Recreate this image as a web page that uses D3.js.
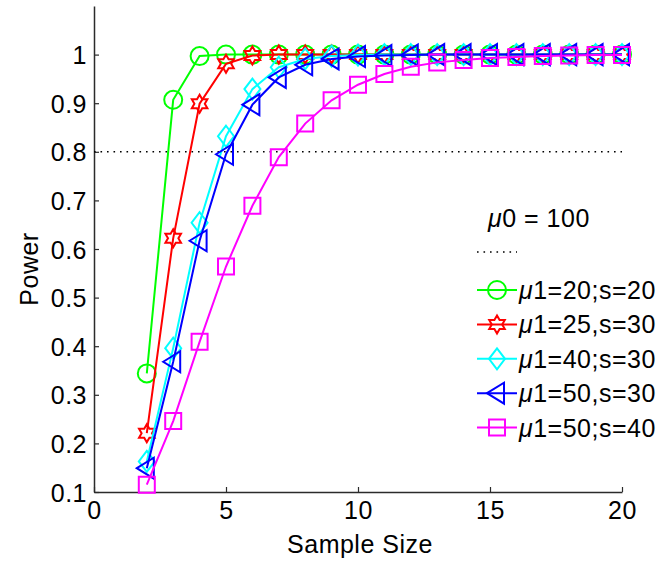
<!DOCTYPE html>
<html>
<head>
<meta charset="utf-8">
<script src="https://cdn.jsdelivr.net/npm/d3@7/dist/d3.min.js"></script>
<style>
  html, body { margin: 0; padding: 0; background: #fff; }
  svg { display: block; }
  text { font-family: "Liberation Sans", Arial, Helvetica, sans-serif; fill: #000; }
</style>
</head>
<body>
<svg id="chart" width="665" height="562"></svg>
<script>
// Sample sizes and power curves for each (μ1, s) setting
const sampleSizes = [2, 3, 4, 5, 6, 7, 8, 9, 10, 11, 12, 13, 14, 15, 16, 17, 18, 19, 20];

const powerMu20s20 = [0.344, 0.907, 0.997, 1.000, 1.000, 1.000, 1.000, 1.000, 1.000, 1.000, 1.000, 1.000, 1.000, 1.000, 1.000, 1.000, 1.000, 1.000, 1.000];
const powerMu25s30 = [0.221, 0.622, 0.899, 0.981, 0.998, 1.000, 1.000, 1.000, 1.000, 1.000, 1.000, 1.000, 1.000, 1.000, 1.000, 1.000, 1.000, 1.000, 1.000];
const powerMu40s30 = [0.163, 0.396, 0.654, 0.832, 0.929, 0.974, 0.991, 0.997, 0.999, 1.000, 1.000, 1.000, 1.000, 1.000, 1.000, 1.000, 1.000, 1.000, 1.000];
const powerMu50s30 = [0.149, 0.368, 0.617, 0.795, 0.897, 0.953, 0.979, 0.991, 0.996, 0.998, 0.999, 1.000, 1.000, 1.000, 1.000, 1.000, 1.000, 1.000, 1.000];
const powerMu50s40 = [0.115, 0.246, 0.409, 0.564, 0.689, 0.789, 0.858, 0.906, 0.938, 0.960, 0.975, 0.984, 0.989, 0.993, 0.995, 0.997, 0.998, 0.999, 0.999];

// Legend labels: Greek prefix and remainder kept apart so μ can be slanted
const seriesLabels = ["1=20;s=20", "1=25,s=30", "1=40;s=30", "1=50,s=30", "1=50;s=40"];
const seriesColors = ["#00ff00", "#ff0000", "#00ffff", "#0000ff", "#ff00ff"];
const seriesMarkers = ["circle", "hexagram", "diamond", "triangleLeft", "square"];

const targetPower = 0.8;
const nullLabel = "0 = 100";

const xTicks = [0, 5, 10, 15, 20];
const yTicks = [0.1, 0.2, 0.3, 0.4, 0.5, 0.6, 0.7, 0.8, 0.9, 1];

const series = [powerMu20s20, powerMu25s30, powerMu40s30, powerMu50s30, powerMu50s40].map((vals, i) => ({
  label: seriesLabels[i],
  color: seriesColors[i],
  marker: seriesMarkers[i],
  points: sampleSizes.map((n, j) => ({ n, p: vals[j] }))
}));

// Layout
const plot = { left: 94, right: 622, top: 6, bottom: 492 };
const x = d3.scaleLinear().domain([0, 20]).range([plot.left, plot.right]);
const y = d3.scaleLinear().domain([0.1, 1.1]).range([plot.bottom, plot.top]);

const svg = d3.select("#chart");
const FONT = 25;
const SPACING = 0.5;
const AXIS_COLOR = "#2b2b2b";

// Marker outlines, centred on (0,0)
function markerPath(kind) {
  switch (kind) {
    case "circle": {
      const r = 9;
      return `M${-r},0A${r},${r} 0 1,0 ${r},0A${r},${r} 0 1,0 ${-r},0Z`;
    }
    case "square": {
      const h = 8;
      return `M${-h},${-h}L${h},${-h}L${h},${h}L${-h},${h}Z`;
    }
    case "diamond": {
      const w = 8, h = 10.5;
      return `M0,${-h}L${w},0L0,${h}L${-w},0Z`;
    }
    case "triangleLeft": {
      return `M-10,0L7,-10.5L7,10.5Z`;
    }
    case "hexagram": {
      const R = 9, r = R / Math.sqrt(3);
      const pts = [];
      for (let k = 0; k < 12; k++) {
        const a = -Math.PI / 2 + k * Math.PI / 6;
        const rad = k % 2 === 0 ? R : r;
        pts.push([rad * Math.cos(a), rad * Math.sin(a)]);
      }
      return "M" + pts.map(p => p[0].toFixed(2) + "," + p[1].toFixed(2)).join("L") + "Z";
    }
  }
}

// Axes (inward ticks, no box)
const xAxis = d3.axisBottom(x).tickValues(xTicks).tickFormat(d3.format("d")).tickSizeInner(-5).tickSizeOuter(0).tickPadding(10);
const yAxis = d3.axisLeft(y).tickValues(yTicks).tickFormat(d => d === 1 ? "1" : d3.format(".1f")(d)).tickSizeInner(-5).tickSizeOuter(0).tickPadding(7);

const gx = svg.append("g").attr("transform", `translate(0,${plot.bottom})`).call(xAxis);
const gy = svg.append("g").attr("transform", `translate(${plot.left},0)`).call(yAxis);

[gx, gy].forEach(g => {
  g.select(".domain").attr("stroke", AXIS_COLOR).attr("stroke-width", 1.5);
  g.selectAll(".tick line").attr("stroke", AXIS_COLOR).attr("stroke-width", 1.2);
  g.selectAll(".tick text").attr("font-size", FONT).attr("fill", "#000")
    .style("font-family", '"Liberation Sans", Arial, sans-serif')
    .style("letter-spacing", SPACING + "px");
});
gx.selectAll(".tick text").attr("dy", "0.68em");
gy.selectAll(".tick text").attr("dy", "0.36em");

// Axis labels
svg.append("text")
  .attr("x", (plot.left + plot.right) / 2 + 2)
  .attr("y", 553)
  .attr("text-anchor", "middle")
  .attr("font-size", FONT)
  .style("letter-spacing", SPACING + "px")
  .text("Sample Size");

svg.append("text")
  .attr("transform", `translate(38,${(plot.top + plot.bottom) / 2 + 20}) rotate(-90)`)
  .attr("text-anchor", "middle")
  .attr("font-size", FONT)
  .style("letter-spacing", SPACING + "px")
  .text("Power");

// Target power reference line
svg.append("line")
  .attr("x1", x(0)).attr("x2", x(20))
  .attr("y1", y(targetPower)).attr("y2", y(targetPower))
  .attr("stroke", "#000").attr("stroke-width", 1.6)
  .attr("stroke-dasharray", "1.6,4.9");

// Power curves with markers
const line = d3.line().x(d => x(d.n)).y(d => y(d.p));

series.forEach(s => {
  const g = svg.append("g");
  g.append("path")
    .datum(s.points)
    .attr("d", line)
    .attr("fill", "none")
    .attr("stroke", s.color)
    .attr("stroke-width", 2);
  g.selectAll("path.marker")
    .data(s.points)
    .join("path")
    .attr("class", "marker")
    .attr("d", markerPath(s.marker))
    .attr("transform", d => `translate(${x(d.n)},${y(d.p)})`)
    .attr("fill", "none")
    .attr("stroke", s.color)
    .attr("stroke-width", 2);
});

// Text with a slanted μ prefix
function muText(sel, rest) {
  sel.append("tspan").style("font-style", "italic").text("\u03bc");
  sel.append("tspan").text(rest);
}

// Legend
const legend = { lineX1: 477, lineX2: 517, textX: 519, firstRow: 290, rowGap: 34.4 };

svg.append("text")
  .attr("x", 488).attr("y", 218).attr("dy", "0.36em")
  .attr("font-size", FONT)
  .style("letter-spacing", SPACING + "px")
  .call(muText, nullLabel);

svg.append("line")
  .attr("x1", legend.lineX1).attr("x2", legend.lineX2)
  .attr("y1", 252).attr("y2", 252)
  .attr("stroke", "#000").attr("stroke-width", 1.6)
  .attr("stroke-dasharray", "1.6,4.9");

series.forEach((s, i) => {
  const yRow = legend.firstRow + i * legend.rowGap;
  const g = svg.append("g");
  g.append("line")
    .attr("x1", legend.lineX1).attr("x2", legend.lineX2)
    .attr("y1", yRow).attr("y2", yRow)
    .attr("stroke", s.color).attr("stroke-width", 2);
  g.append("path")
    .attr("d", markerPath(s.marker))
    .attr("transform", `translate(${(legend.lineX1 + legend.lineX2) / 2},${yRow})`)
    .attr("fill", "none").attr("stroke", s.color).attr("stroke-width", 2);
  g.append("text")
    .attr("x", legend.textX).attr("y", yRow).attr("dy", "0.36em")
    .attr("font-size", FONT)
    .style("letter-spacing", SPACING + "px")
    .call(muText, s.label);
});
</script>
</body>
</html>
